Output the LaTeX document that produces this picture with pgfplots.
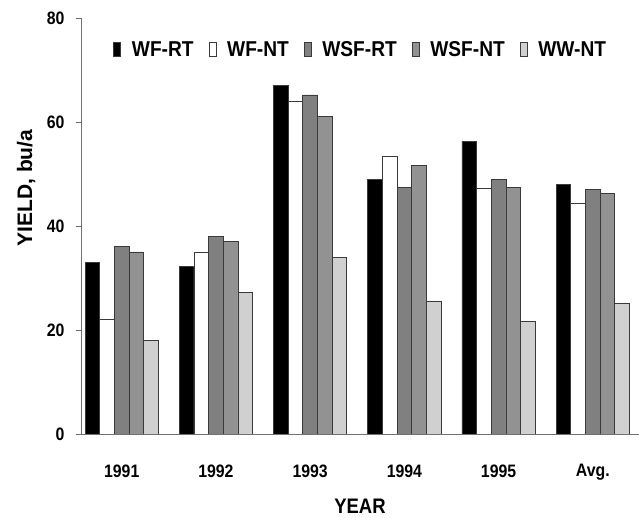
\documentclass[border=0pt]{standalone}
\usepackage{fontspec}
\setmainfont{Liberation Sans}[FakeStretch=0.88]
\newfontfamily\legfont{Liberation Sans}[FakeStretch=0.89]
\newfontfamily\rotfont{Liberation Sans}
\usepackage{pgfplots}
\pgfplotsset{compat=1.18}
\definecolor{cA}{HTML}{000000}
\definecolor{cB}{HTML}{FFFFFF}
\definecolor{cC}{HTML}{808080}
\definecolor{cD}{HTML}{929292}
\definecolor{cE}{HTML}{D0D0D0}
\definecolor{edge}{HTML}{3A3A3A}
\definecolor{axline}{HTML}{707070}
\begin{document}
\begin{tikzpicture}
\begin{axis}[
  name=ax,
  scale only axis,
  width=558bp, height=416bp,
  ybar=0pt,
  bar width=0.1556,
  xmin=-0.432, xmax=5.49,
  ymin=0, ymax=80,
  ytick={0,20,40,60,80},
  xtick={0,1,2,3,4,5},
  xticklabels={1991,1992,1993,1994,1995,Avg.},
  axis x line*=bottom,
  axis y line*=left,
  axis line style={draw=axline, line width=0.8bp},
  x axis line style={-}, y axis line style={-},
  xtick style={draw=none},
  ytick style={draw=axline, line width=0.8bp},
  tick align=outside,
  major tick length=5bp,
  /pgf/number format/assume math mode=true,
  tick label style={font=\fontsize{18bp}{20bp}\selectfont\bfseries},
  yticklabel style={anchor=east, xshift=-8bp},
  xticklabel style={anchor=north, yshift=-22bp},
  xlabel={YEAR},
  ylabel={\rotfont YIELD, bu/a},
  label style={font=\fontsize{21bp}{23bp}\selectfont\bfseries},
  xlabel style={at={(axis description cs:0.5,-0.192)}, anchor=base},
  ylabel style={at={(axis description cs:-0.0878,0.591)}, anchor=base, rotate=0},
  legend columns=5,
  legend style={draw=none, fill=none, inner sep=0pt, outer sep=0pt,
    at={(axis description cs:0.058,0.924)}, anchor=west,
    font=\legfont\fontsize{21.5bp}{23bp}\selectfont\bfseries,
    nodes={inner sep=0pt},
    /tikz/every odd column/.append style={column sep=11bp},
    /tikz/every even column/.append style={column sep=15bp}},
  legend image code/.code={\draw[#1, line width=0.6bp] (0bp,-7bp) rectangle (7bp,7bp);},
  every axis plot/.append style={draw=edge, line width=0.7bp},
]
\addplot[fill=cA] coordinates {(0,33.0) (1,32.2) (2,67.0) (3,49.0) (4,56.3) (5,48.0)};
\addplot[fill=cB] coordinates {(0,22.0) (1,35.0) (2,64.0) (3,53.3) (4,47.2) (5,44.4)};
\addplot[fill=cC] coordinates {(0,36.0) (1,38.0) (2,65.2) (3,47.4) (4,49.0) (5,47.1)};
\addplot[fill=cD] coordinates {(0,35.0) (1,37.0) (2,61.1) (3,51.6) (4,47.4) (5,46.3)};
\addplot[fill=cE] coordinates {(0,18.0) (1,27.2) (2,34.0) (3,25.6) (4,21.7) (5,25.2)};
\legend{WF-RT,WF-NT,WSF-RT,WSF-NT,WW-NT}
\end{axis}
\pgfresetboundingbox
\path ([xshift=-81bp,yshift=-84bp]ax.south west) rectangle ([yshift=18bp]ax.north east);
\end{tikzpicture}
\end{document}
